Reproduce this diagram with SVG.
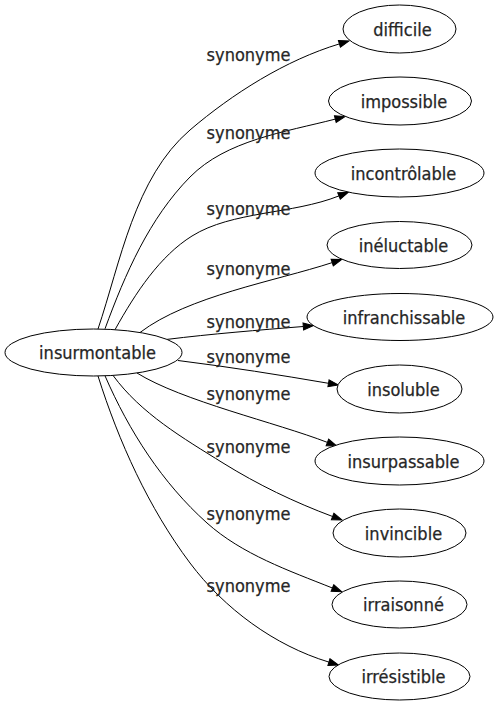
<svg xmlns="http://www.w3.org/2000/svg" width="497" height="707" viewBox="0 0 497 707">
<style>
.n ellipse{fill:#fff;stroke:#000;stroke-width:1}
text{font-family:"DejaVu Sans Condensed","DejaVu Sans",sans-serif;font-stretch:condensed;font-size:18px;fill:#262626;stroke:#262626;stroke-width:0.25;text-anchor:middle}
.e path{fill:none;stroke:#000;stroke-width:1;marker-end:url(#ah)}
</style>
<defs>
<marker id="ah" markerUnits="userSpaceOnUse" markerWidth="10" markerHeight="7" viewBox="0 0 10 7" refX="0" refY="3.5" orient="auto" overflow="visible">
<path d="M0,0 L10,3.5 L0,7 z" fill="#000" stroke="#000" stroke-width="1"/>
</marker>
</defs>
<rect width="497" height="707" fill="#fff"/>
<g id="edges" class="e">
<path d="M98,329 C120.4,262.5 134.5,177.5 190,130 C232.6,93.6 285.6,60.1 339.4,43.9"/>
<path d="M105,328.8 C125.3,273.5 149.4,218.2 190,177 C226.4,140.1 284.9,132.1 335.3,119.1"/>
<path d="M115,329.7 C136,292 160,256 192,236 C232,211 292.5,214.4 339,195.9"/>
<path d="M140,332.5 C188,296 275.2,281.2 332.2,262.6"/>
<path d="M167,339.4 C210,334 260,330 303.3,326.5"/>
<path d="M178,360.5 C230,367 280,375 328.5,383.3"/>
<path d="M137,373 C182,401 276.2,422.6 327.4,442.4"/>
<path d="M113,375.4 C141,413.6 183,438.1 223,463 C257.9,484.7 294.1,502.1 332.6,516.5"/>
<path d="M105,375.8 C129,431 162.3,483 207,523 C242,554.3 288.7,570.6 332.4,588"/>
<path d="M98,376 C118.7,441.6 148.6,507.8 190,563 C224.2,608.6 274.4,645.6 328.9,662.1"/>
<text x="248.5" y="61">synonyme</text>
<text x="248.5" y="139">synonyme</text>
<text x="248.5" y="215">synonyme</text>
<text x="248.5" y="275">synonyme</text>
<text x="248.5" y="328">synonyme</text>
<text x="248.5" y="363">synonyme</text>
<text x="248.5" y="400">synonyme</text>
<text x="248.5" y="453">synonyme</text>
<text x="248.5" y="520">synonyme</text>
<text x="248.5" y="592">synonyme</text>
</g>
<g id="insurmontable" class="n"><ellipse cx="93.5" cy="352.5" rx="88.5" ry="23.5"/><text x="97.5" y="358.5">insurmontable</text></g>
<g id="difficile" class="n"><ellipse cx="399.5" cy="29" rx="56.5" ry="24"/><text x="402.5" y="35.5">difficile</text></g>
<g id="impossible" class="n"><ellipse cx="400" cy="101" rx="71.5" ry="24"/><text x="404" y="107.5">impossible</text></g>
<g id="incontrolable" class="n"><ellipse cx="399.5" cy="173" rx="84.5" ry="24"/><text x="403.5" y="179.5">incontrôlable</text></g>
<g id="ineluctable" class="n"><ellipse cx="399.5" cy="245" rx="72.5" ry="23.5"/><text x="403.5" y="251.5">inéluctable</text></g>
<g id="infranchissable" class="n"><ellipse cx="400" cy="317" rx="93" ry="23.5"/><text x="404" y="323.5">infranchissable</text></g>
<g id="insoluble" class="n"><ellipse cx="399.5" cy="389" rx="62.5" ry="24"/><text x="403.5" y="395.5">insoluble</text></g>
<g id="insurpassable" class="n"><ellipse cx="399.5" cy="461" rx="84.5" ry="24"/><text x="403.5" y="467.5">insurpassable</text></g>
<g id="invincible" class="n"><ellipse cx="399.5" cy="533" rx="66.5" ry="24"/><text x="403.5" y="539.5">invincible</text></g>
<g id="irraisonne" class="n"><ellipse cx="399.5" cy="604.5" rx="67.5" ry="23.5"/><text x="403.5" y="611">irraisonné</text></g>
<g id="irresistible" class="n"><ellipse cx="399.5" cy="676.5" rx="70.5" ry="23.5"/><text x="403.5" y="683">irrésistible</text></g>
</svg>
